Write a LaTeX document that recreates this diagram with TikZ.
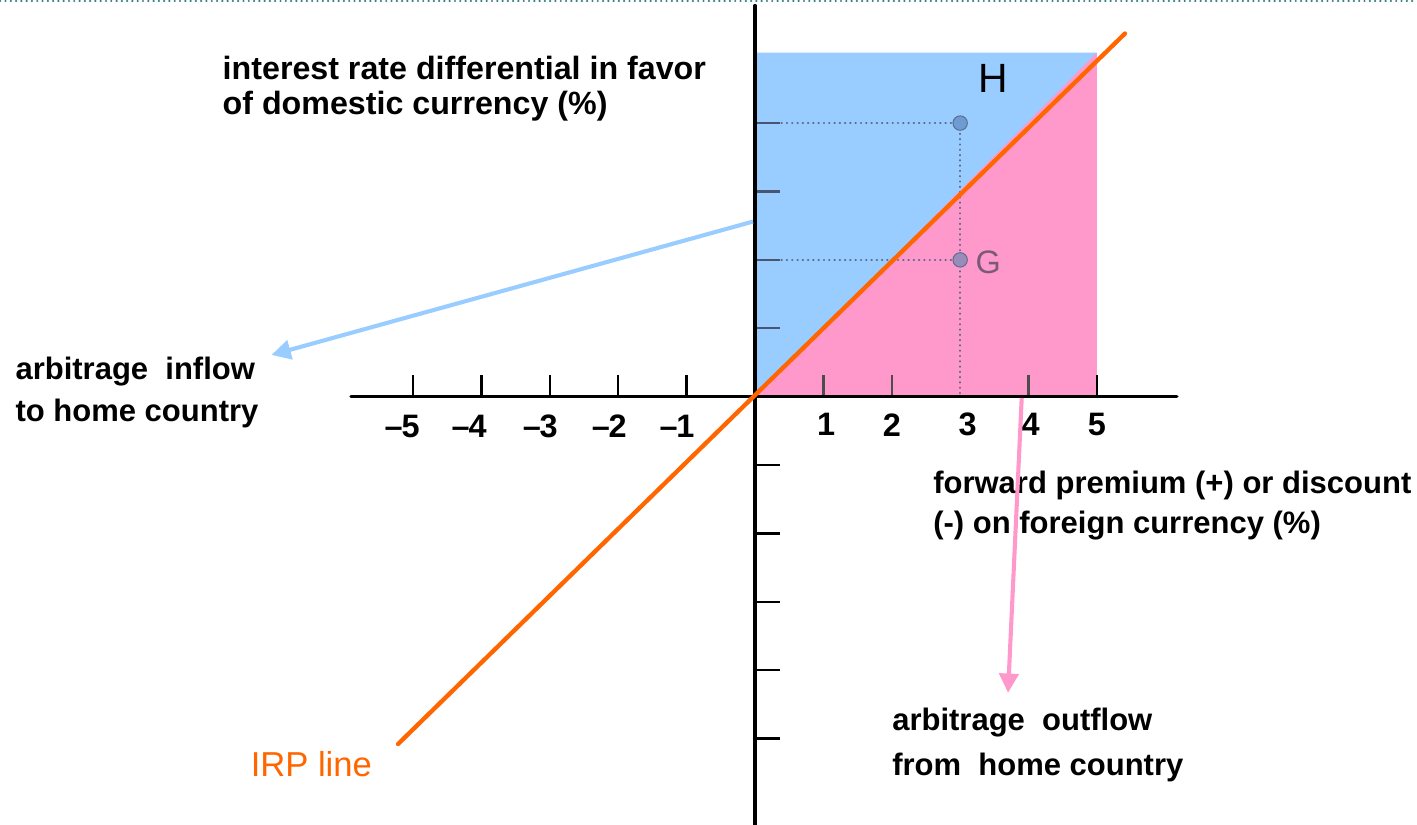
\documentclass[tikz,border=0pt]{standalone}
\usepackage{fontspec}
\setmainfont{Liberation Sans}
\usepackage{tikz}
\usetikzlibrary{calc, arrows.meta}
\usepackage{tkz-euclide}

\definecolor{irporange}{HTML}{FF6600}
\definecolor{inblue}{HTML}{99CCFF}
\definecolor{outpink}{HTML}{FF99CC}
\definecolor{slategray}{HTML}{5A6B8C}
\definecolor{gpurple}{HTML}{7A5A78}
\definecolor{gdot}{HTML}{9A8CBA}
\definecolor{hdot}{HTML}{6E9CD2}
\definecolor{topteal}{HTML}{3A7F7F}

\begin{document}
\begin{tikzpicture}[x=1cm, y=1cm,
    axisline/.style={black, line width=1.3pt},
    tickmark/.style={line width=1pt},
    guide/.style={slategray, dotted, line width=0.8pt},
    ticklabel/.style={font=\bfseries\fontsize{13.5}{14}\selectfont, inner sep=0pt},
    note/.style={font=\bfseries\fontsize{12.9}{#1}\selectfont, align=left, anchor=north west, inner sep=0pt},
    flow/.style={line width=1.7pt, -{Triangle[length=8pt,width=8pt]}}]
    \useasboundingbox (-11.04,-6.26) rectangle (9.68,5.80);
    \tkzDefPoints{0/0/O, 5/0/E, 5/5.03/F, 0/5.03/K}
    \tkzDefPoints{3/4/H, 3/2/G, 0/4/Y, 0/2/Z, 3/0/X}
    \tkzDefPoints{-5.91/0/XL, 6.17/0/XR, 0/5.72/YT, 0/-6.26/YB}
    \tkzDefPoints{-5.22/-5.08/P, 5.41/5.31/Q}
    \tkzDefPoints{-11.04/5.785/TL, 9.68/5.785/TR}
    \tkzDefPoints{-0.03/2.56/U, -7.07/0.61/V, 3.90/-0.02/S, 3.70/-4.33/T}
    % regions
    \tkzFillPolygon[color=inblue](O,E,F,K)
    \tkzFillPolygon[color=outpink](O,E,F)
    \tkzDrawSegments[topteal, dotted, line width=0.8pt](TL,TR)
    % guides to the points
    \tkzDrawSegments[guide](Y,H Z,G H,X)
    % ticks
    \foreach \i in {-5,...,-1}
        \draw[tickmark] (\i,0) -- (\i,0.32);
    \foreach \i in {1,2,4}
        \draw[tickmark, black!70] (\i,0) -- (\i,0.32);
    \draw[tickmark] (5,0) -- (5,0.32);
    \foreach \j in {1,...,4}
        \draw[tickmark, slategray!80!black] (0,\j) -- (0.37,\j);
    \foreach \j in {-1,...,-5}
        \draw[tickmark] (0,\j) -- (0.37,\j);
    \tkzDrawSegments[axisline](XL,XR YT,YB)
    % tick labels
    \foreach \i/\xx in {-5/-5.16,-4/-4.18,-3/-3.14,-2/-2.13,-1/-1.14}
        \node[ticklabel] (xl\i) at (\xx,-0.43) {\textendash\kern-0.5pt\number-\i};
    \foreach \i/\xx in {1/1.04,2/2.0,3/3.11,4/4.03,5/5.0}
        \node[ticklabel] (xl\i) at (\xx,-0.41) {\i};
    % IRP line
    \tkzDrawSegments[irporange, line width=1.8pt](P,Q)
    \tkzDrawPoints[size=6, color=slategray, fill=hdot](H)
    \tkzDrawPoints[size=6, color=slategray, fill=gdot](G)
    \node[font=\fontsize{17}{17}\selectfont] (hlab) at (3.48,4.66) {H};
    \node[font=\fontsize{13.5}{12}\selectfont, text=gpurple, anchor=west, inner sep=0pt] (glab) at (3.22,1.97) {G};
    % labels
    \node[note=14.5, font=\bfseries\fontsize{13.4}{14.5}\selectfont] (ylab) at (-7.79,4.98) {interest rate differential in favor\\of domestic currency (\%)};
    \node[note=16.6] (xlab) at (2.60,-1.08) {forward premium (+) or discount\\(-) on foreign currency (\%)};
    \node[note=17.4] (inlab) at (-10.82,0.59) {arbitrage\ \ inflow\\to home country};
    \node[note=18.7] (outlab) at (2.0,-4.55) {arbitrage\ \ outflow\\from\ \ home country};
    \node[font=\fontsize{14.4}{15}\selectfont, text=irporange, anchor=west, inner sep=0pt] (irplab) at (-7.38,-5.38) {IRP line};
    % arbitrage flows
    \draw[flow, inblue] (U) -- (V);
    \draw[flow, outpink] (S) -- (T);
\end{tikzpicture}
\end{document}
